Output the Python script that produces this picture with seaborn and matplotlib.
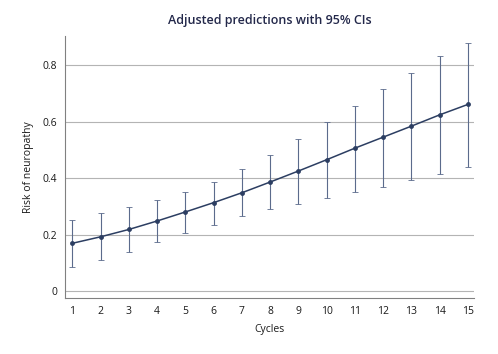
import numpy as np
import pandas as pd
import matplotlib
matplotlib.use("Agg")
import matplotlib.pyplot as plt
import seaborn as sns

# 데이터
cycles = list(range(1, 16))
risk = [0.169, 0.192, 0.218, 0.248, 0.280, 0.313, 0.348, 0.386,
        0.425, 0.465, 0.506, 0.545, 0.584, 0.624, 0.661]
ci_low = [0.084, 0.110, 0.137, 0.172, 0.204, 0.235, 0.264, 0.289,
          0.307, 0.328, 0.349, 0.368, 0.392, 0.413, 0.439]
ci_high = [0.252, 0.275, 0.296, 0.321, 0.352, 0.387, 0.431, 0.482,
           0.538, 0.597, 0.657, 0.717, 0.774, 0.832, 0.877]
yticks = [0, 0.2, 0.4, 0.6, 0.8]
ytick_labels = ["0", "0.2", "0.4", "0.6", "0.8"]

df = pd.DataFrame({"Cycles": cycles, "risk": risk, "lo": ci_low, "hi": ci_high})

sns.set_style("white")
plt.rcParams["font.family"] = ["Open Sans", "DejaVu Sans"]

navy = "#2c3e62"
fig, ax = plt.subplots(figsize=(4.98, 3.54), dpi=100)
fig.subplots_adjust(left=0.131, right=0.952, top=0.898, bottom=0.158)

ax.errorbar(df["Cycles"], df["risk"],
            yerr=[df["risk"] - df["lo"], df["hi"] - df["risk"]],
            fmt="none", ecolor="#5b6b8c", elinewidth=0.8, capsize=2, capthick=0.6, zorder=2)
sns.lineplot(data=df, x="Cycles", y="risk", color=navy, marker="o", markersize=3.5,
             markeredgewidth=0, linewidth=1.1, ax=ax, zorder=3)

ax.set_xlim(0.75, 15.22)
ax.set_ylim(-0.025, 0.903)
ax.set_xticks(cycles)
ax.set_yticks(yticks)
ax.set_yticklabels(ytick_labels)
ax.yaxis.grid(True, color="#b4b4b4", linewidth=0.8)
ax.set_axisbelow(True)

for s in ["top", "right"]:
    ax.spines[s].set_visible(False)
for s in ["left", "bottom"]:
    ax.spines[s].set_color("#808080")
    ax.spines[s].set_linewidth(0.8)
ax.tick_params(axis="both", direction="out", length=4, width=0.8, color="#808080",
               labelsize=7.5, labelcolor="#1a1a1a", pad=2)

ax.set_xlabel("Cycles", fontsize=7.5, color="#1a1a1a", labelpad=5)
ax.set_ylabel("Risk of neuropathy", fontsize=7.5, color="#1a1a1a", labelpad=6)
ax.set_title("Adjusted predictions with 95% CIs", fontsize=9, color="#23284a",
             fontweight="semibold", pad=9)

fig.savefig("out.png", dpi=100)
